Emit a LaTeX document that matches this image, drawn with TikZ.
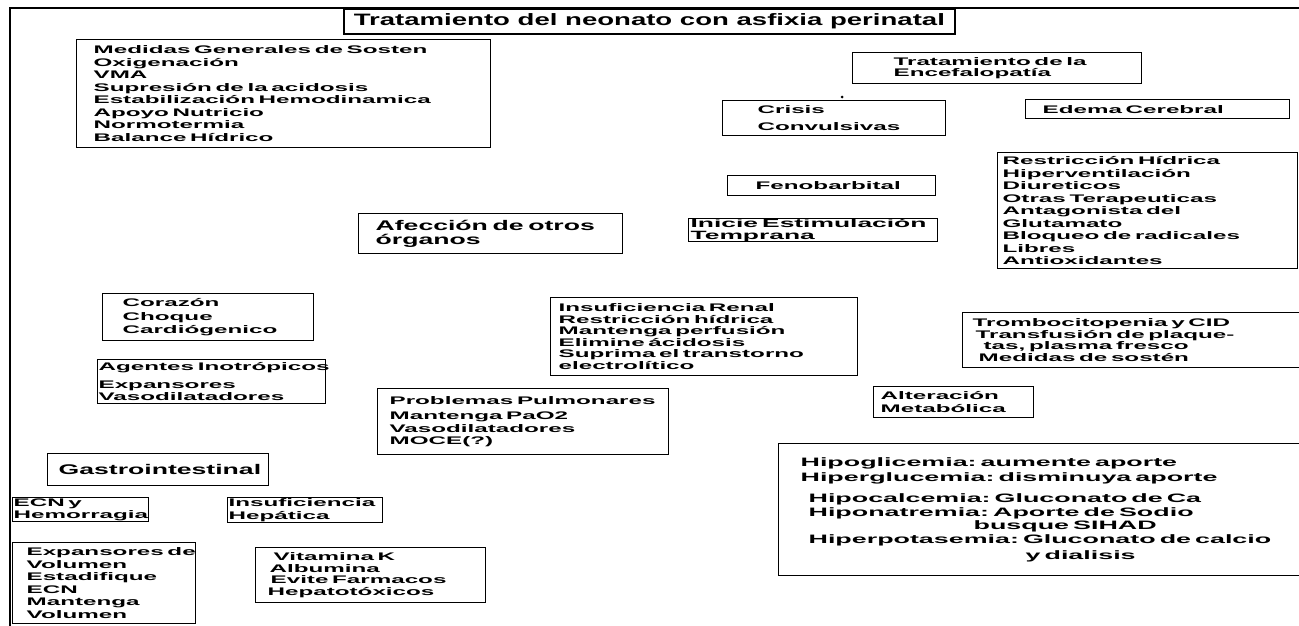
\documentclass[tikz,border=0pt]{standalone}
\usepackage{fontspec}
\newfontfamily\bodyfam[FakeStretch=2.2]{Liberation Sans}
\newfontfamily\titlefam[FakeStretch=1.67]{Liberation Sans}
\newfontfamily\bigfam[FakeStretch=1.9]{Liberation Sans}
\newcommand\bodyf{\bodyfam\bfseries\fontsize{11}{12.5}\selectfont}
\newcommand\titlef{\titlefam\bfseries\fontsize{16.5}{18}\selectfont}
\newcommand\bigf{\bigfam\bfseries\fontsize{14}{13.5}\selectfont}
\tikzset{
  bx/.style={draw, line width=1.3pt, anchor=north west, inner ysep=0pt, align=left, font=\bodyf,
    execute at begin node={\hyphenpenalty=10000\exhyphenpenalty=10000\lefthyphenmin=60\righthyphenmin=60}},
  framestyle/.style={line width=2.5pt},
}
\newcommand\bxx[8][]{%
  \pgfmathsetmacro\tw{#5-2*#7}%
  \node[bx, minimum width=#5pt, minimum height=#6pt, inner xsep=#7pt, text width=\tw pt, #1] (#2) at (#3,#4) {#8};}
\begin{document}
\begin{tikzpicture}[x=1pt,y=-1pt]
\useasboundingbox (0,0) rectangle (1299,626);
% frame
\coordinate (fbl) at (10,626);
\coordinate (ftl) at (10,8);
\coordinate (ftr) at (1299,8);
\draw[framestyle] (fbl) -- (ftl) -- (ftr);
% title
\node[bx, align=center, font=\titlef, line width=1.8pt, minimum width=611pt, minimum height=25pt, inner xsep=0pt] (title) at (343,8) {Tratamiento~del~neonato~con~asfixia~perinatal};
% boxes
\bxx{medidas}{76}{39}{414}{108}{17}{Medidas~Generales~de~Sosten\\Oxigenación\\VMA\\Supresión~de~la~acidosis\\Estabilización~Hemodinamica\\Apoyo~Nutricio\\Normotermia\\Balance~Hídrico}
\bxx[font=\bodyfam\bfseries\fontsize{11}{11.5}\selectfont]{encef}{852}{52}{289}{31}{41}{Tratamiento~de~la\\Encefalopatía}
\node[circle, fill, inner sep=0pt, minimum size=3pt] (dot) at (842,97) {};
\bxx{crisis}{722}{100}{223}{35}{35}{Crisis\\[4pt]Convulsivas}
\bxx{edema}{1025}{99}{264}{19}{17}{Edema~Cerebral}
\bxx{feno}{727}{175}{208}{20}{28}{Fenobarbital}
\bxx{restric}{997}{152}{300}{116}{5}{Restricción~Hídrica\\Hiperventilación\\Diureticos\\Otras~Terapeuticas\\Antagonista~del\\Glutamato\\Bloqueo~de~radicales\\Libres\\Antioxidantes}
\bxx[font=\bodyfam\bfseries\fontsize{12}{11.5}\selectfont]{inicie}{688}{218}{249}{23}{2}{Inicie~Estimulación\\Temprana}
\bxx[font=\bigf]{afecc}{358}{213}{264}{40}{17}{Afección~de~otros\\órganos}
\bxx[font=\bodyfam\bfseries\fontsize{11}{11.6}\selectfont]{renal}{550}{297}{307}{78}{8}{Insuficiencia~Renal\\Restricción~hídrica\\Mantenga~perfusión\\Elimine~ácidosis\\Suprima~el~transtorno\\electrolítico}
\bxx[font=\bodyfam\bfseries\fontsize{11}{11.5}\selectfont]{tromb}{962}{312}{340}{55}{10}{Trombocitopenia~y~CID\\\hspace*{3pt}Transfusión~de~plaque-\\\hspace*{11pt}tas,~plasma~fresco\\\hspace*{6pt}Medidas~de~sostén}
\bxx{alter}{873}{386}{160}{31}{7}{Alteración\\Metabólica}
\bxx[font=\bodyfam\bfseries\fontsize{11}{13.5}\selectfont]{corazon}{102}{293}{211}{47}{20}{Corazón\\Choque\\Cardiógenico}
\bxx{agentes}{97}{359}{228}{44}{1}{Agentes~Inotrópicos\\[5pt]Expansores\\Vasodilatadores}
\bxx{pulm}{377}{388}{291}{66}{12}{Problemas~Pulmonares\\[3pt]Mantenga~PaO2\\Vasodilatadores\\MOCE(?)}
\bxx[font=\bigf]{gastro}{47}{453}{221}{32}{11}{Gastrointestinal}
\bxx{ecn}{12}{497}{136}{24}{1}{ECN~y\\Hemorragia}
\bxx{hepat}{227}{497}{155}{25}{1}{Insuficiencia\\Hepática}
\bxx[font=\bodyfam\bfseries\fontsize{11}{12.6}\selectfont]{expans}{12}{542}{183}{81}{14}{Expansores~de\\Volumen\\Estadifique\\ECN\\Mantenga\\Volumen}
\bxx[font=\bodyfam\bfseries\fontsize{11}{11.5}\selectfont]{vitk}{255}{547}{230}{55}{12}{\hspace*{6pt}Vitamina~K\\\hspace*{2pt}Albumina\\\hspace*{3pt}Evite~Farmacos\\Hepatotóxicos}
\bxx[font=\bodyfam\bfseries\fontsize{12.2}{13}\selectfont]{hipo}{778}{443}{524}{132}{22}{Hipoglicemia:~aumente~aporte\\[2pt]Hiperglucemia:~disminuya~aporte\\[8pt]\hspace*{8pt}Hipocalcemia:~Gluconato~de~Ca\\[1pt]\hspace*{8pt}Hiponatremia:~Aporte~de~Sodio\\\hspace*{173pt}busque~SIHAD\\[1pt]\hspace*{8pt}Hiperpotasemia:~Gluconato~de~calcio\\[3pt]\hspace*{225pt}y~dialisis}
\end{tikzpicture}
\end{document}
